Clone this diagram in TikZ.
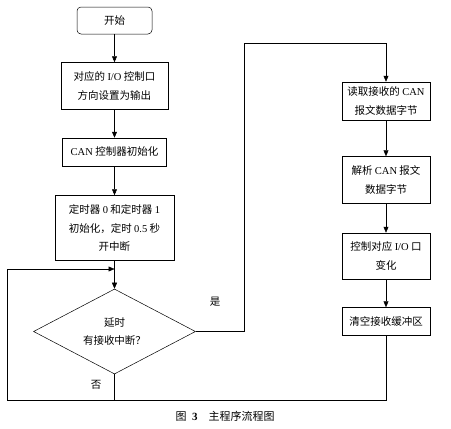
\documentclass[tikz,border=0pt]{standalone}
\usepackage{fontspec}
\setmainfont{Liberation Serif}
\newfontfamily\cjk{Noto Sans CJK SC}
\usetikzlibrary{arrows.meta,positioning,shapes.geometric}
\newcommand{\eng}[1]{{\rmfamily #1}}

\begin{document}
\begin{tikzpicture}[x=1pt, y=-1pt, line width=0.5pt, every node/.style={font=\cjk\fontsize{10.5}{18.5}\selectfont}, b/.style={draw,align=center,inner sep=2pt}, a/.style={-{Triangle[length=6pt,width=5pt]}}]
\useasboundingbox (0,0) rectangle (451,429);
% left column
\node[b,rounded corners=4pt,minimum width=75pt,minimum height=27pt] (start) at (114.5,20.5) {开始};
\node[b,minimum width=107pt,minimum height=47pt,below=28pt of start] (io) {对应的 \eng{I/O} 控制口\\方向设置为输出};
\node[b,minimum width=104pt,minimum height=28pt,below=28pt of io] (init) {\eng{CAN} 控制器初始化};
\node[b,minimum width=119pt,minimum height=65pt,below=29pt of init] (timer) {定时器 \eng{0} 和定时器 \eng{1}\\初始化，定时 \eng{0.5} 秒\\开中断};
\node[draw,diamond,aspect=1.9,minimum width=162pt,minimum height=85pt,inner sep=0pt,align=center,below=28pt of timer] (dec) {延时\\有接收中断？};
% right column
\node[b,minimum width=88pt,minimum height=38pt] (rd) at (386,101) {读取接收的 \eng{CAN}\\报文数据字节};
\node[b,minimum width=88pt,minimum height=47pt,below=36pt of rd] (parse) {解析 \eng{CAN} 报文\\数据字节};
\node[b,minimum width=88pt,minimum height=46pt,below=29pt of parse] (ctrl) {控制对应 \eng{I/O} 口\\变化};
\node[b,minimum width=88pt,minimum height=28pt,below=28pt of ctrl] (clr) {清空接收缓冲区};
% corners of the loops
\coordinate (j) at (114.5,269);
\coordinate (bl) at (7,400);
\coordinate (yr) at (244,43);
% labels
\node (yes) at (215,302) {是};
\node (no) at (96,385) {否};
\node[font=\cjk\fontsize{11}{13}\selectfont] (cap) at (225,416) {图\enspace\eng{\textbf{3}}\quad 主程序流程图};
% connectors
\draw[a] (start)--(io);\draw[a] (io)--(init);\draw[a] (init)--(timer);\draw[a] (timer)--(dec);
\draw[a] (rd)--(parse);\draw[a] (parse)--(ctrl);\draw[a] (ctrl)--(clr);
\draw[a] (dec.east) -| (yr) -| (rd.north);
\draw (dec.south) -- (dec.south |- bl);
\draw[a] (clr.south) |- (bl) |- (j);
\end{tikzpicture}
\end{document}
